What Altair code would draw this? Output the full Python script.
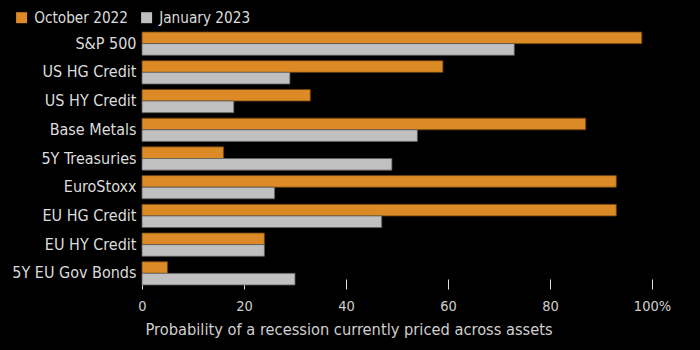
import altair as alt
import pandas as pd

assets = ["S&P 500", "US HG Credit", "US HY Credit", "Base Metals", "5Y Treasuries",
          "EuroStoxx", "EU HG Credit", "EU HY Credit", "5Y EU Gov Bonds"]
oct_2022 = [98, 59, 33, 87, 16, 93, 93, 24, 5]
jan_2023 = [73, 29, 18, 54, 49, 26, 47, 24, 30]
series = ["October 2022", "January 2023"]
colors = ["#DC8A26", "#C0C0C0"]
strokes = ["#6b4210", "#5e5e5e"]

rows = []
for a, o, j in zip(assets, oct_2022, jan_2023):
    rows.append({"asset": a, "series": series[0], "value": o})
    rows.append({"asset": a, "series": series[1], "value": j})
df = pd.DataFrame(rows)

FONT = "DejaVu Sans Condensed"

chart = alt.Chart(df).mark_bar(strokeWidth=0.8).encode(
    y=alt.Y("asset:N", sort=assets, title=None,
            scale=alt.Scale(paddingInner=0.19, paddingOuter=0.14),
            axis=alt.Axis(domain=False, ticks=False, labelFontSize=16, labelColor="#dcdcdc",
                          labelPadding=6, labelFont=FONT)),
    yOffset=alt.YOffset("series:N", sort=series),
    x=alt.X("value:Q", title="Probability of a recession currently priced across assets",
            scale=alt.Scale(domain=[0, 100]),
            axis=alt.Axis(values=[0, 20, 40, 60, 80, 100], domain=False, grid=False,
                          tickSize=10, tickColor="#e0e0e0", tickWidth=1, offset=-10,
                          labelFlush=False,
                          labelExpr="datum.value == 100 ? '100%' : datum.label",
                          labelFontSize=14.5, labelColor="#cfcfcf", labelPadding=10,
                          labelFont=FONT, titleFont=FONT, titleFontSize=16.3,
                          titleFontWeight="normal", titleColor="#cfcfcf", titlePadding=9,
                          titleAnchor="start", titleAlign="left", titleX=3)),
    color=alt.Color("series:N", sort=series,
                    scale=alt.Scale(domain=series, range=colors),
                    legend=alt.Legend(title=None, orient="none", legendX=-128, legendY=-18,
                                      direction="horizontal", symbolType="square",
                                      symbolSize=121, symbolStrokeWidth=0,
                                      labelFontSize=15.2, labelColor="#dcdcdc",
                                      labelFont=FONT, columnPadding=11, labelOffset=5)),
    stroke=alt.Stroke("series:N", sort=series,
                      scale=alt.Scale(domain=series, range=strokes), legend=None),
).properties(
    width=510, height=261,
    autosize=alt.AutoSizeParams(type="none"),
    padding={"left": 142, "top": 28, "right": 48, "bottom": 61},
    background="#000000",
).configure_view(stroke=None)

chart.save("out.html", embed_options={"renderer": "svg", "actions": False})
